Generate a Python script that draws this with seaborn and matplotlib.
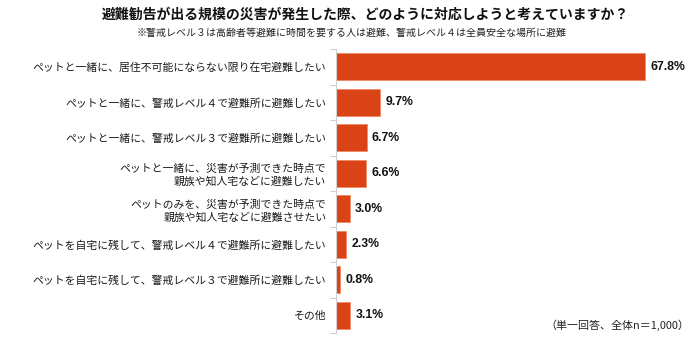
import matplotlib
matplotlib.use("Agg")
import matplotlib.pyplot as plt
import seaborn as sns
import pandas as pd

# Survey answers and their shares (%)
categories = [
    "ペットと一緒に、居住不可能にならない限り在宅避難したい",
    "ペットと一緒に、警戒レベル４で避難所に避難したい",
    "ペットと一緒に、警戒レベル３で避難所に避難したい",
    "ペットと一緒に、災害が予測できた時点で\n親族や知人宅などに避難したい",
    "ペットのみを、災害が予測できた時点で\n親族や知人宅などに避難させたい",
    "ペットを自宅に残して、警戒レベル４で避難所に避難したい",
    "ペットを自宅に残して、警戒レベル３で避難所に避難したい",
    "その他",
]
shares = [67.8, 9.7, 6.7, 6.6, 3.0, 2.3, 0.8, 3.1]

title = "避難勧告が出る規模の災害が発生した際、どのように対応しようと考えていますか？"
subtitle = "※警戒レベル３は高齢者等避難に時間を要する人は避難、警戒レベル４は全員安全な場所に避難"
note = "（単一回答、全体n＝1,000）"

sns.set_theme(style="white")
plt.rcParams["font.family"] = ["Noto Sans CJK JP", "DejaVu Sans"]

df = pd.DataFrame({"answer": categories, "share": shares})

fig = plt.figure(figsize=(7.0, 3.43), dpi=100)
ax = fig.add_axes([0.480, 0.029, 0.486, 0.828])

bar_color = "#DA4316"
sns.barplot(data=df, y="answer", x="share", orient="h", color=bar_color,
            width=0.76, edgecolor="#EE8A6A", linewidth=0.6, saturation=1, ax=ax)

ax.set_xlim(0, 74.7)
ax.set_ylim(len(categories) - 0.5, -0.5)
ax.set_xlabel("")
ax.set_ylabel("")
ax.set_xticks([])

# Tick marks at the boundaries between categories, labels at the centres
ax.set_yticks([i - 0.5 for i in range(len(categories) + 1)], minor=False)
ax.set_yticklabels([""] * (len(categories) + 1))
ax.set_yticks(range(len(categories)), minor=True)
ax.set_yticklabels(categories, minor=True, fontsize=7.8, color="#1a1a1a",
                   ha="right", linespacing=1.25)
ax.tick_params(axis="y", which="major", length=4, width=0.8, color="#D0D0D0",
               left=True, direction="out")
ax.tick_params(axis="y", which="minor", length=0, pad=7)

for side in ["top", "right", "bottom"]:
    ax.spines[side].set_visible(False)
ax.spines["left"].set_color("#D0D0D0")
ax.spines["left"].set_linewidth(0.8)

for i, v in enumerate(shares):
    ax.text(v + 1.2, i, f"{v:.1f}%", va="center", ha="left",
            fontsize=8.8, fontweight="bold", color="#111111",
            family=["Liberation Sans", "DejaVu Sans"])

fig.text(0.522, 0.958, title, ha="center", va="center", fontsize=10,
         fontweight="bold", color="#111111")
fig.text(0.503, 0.905, subtitle, ha="center", va="center", fontsize=7.2,
         color="#222222")
fig.text(0.984, 0.052, note, ha="right", va="center", fontsize=7.9,
         color="#222222")

fig.savefig("out.png", dpi=100)
